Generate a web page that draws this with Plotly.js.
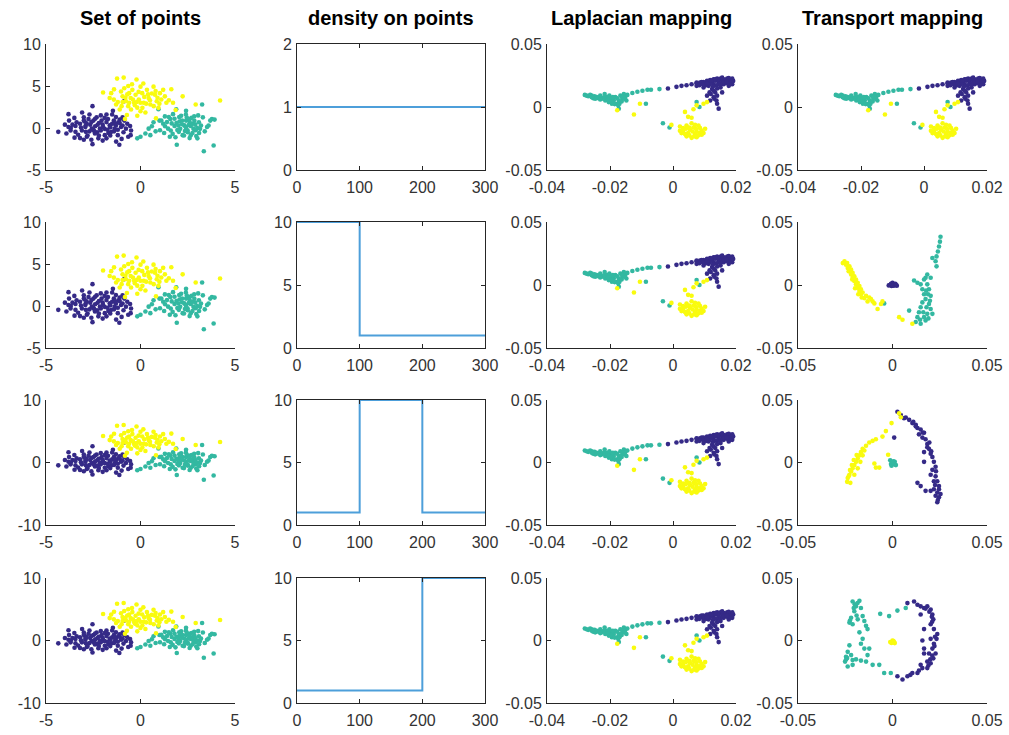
<!DOCTYPE html>
<html>
<head>
<meta charset="utf-8">
<script src="https://cdn.plot.ly/plotly-3.0.1.min.js"></script>
<style>
  html, body { margin: 0; padding: 0; background: #ffffff; }
  #chart { width: 1009px; height: 735px; }
</style>
</head>
<body>
<div id="chart"></div>
<script>
// ---- column titles ----
const columnTitles = ['Set of points', 'density on points', 'Laplacian mapping', 'Transport mapping'];

// ---- original 2-D point set: three groups of 100 points ----
const setPurple = [
  [-4.35,-0.46],[-3.92,-0.65],[-3.81,1.65],[-3.78,0.88],[-3.81,0.12],[-3.69,0],[-3.49,-1.15],[-3.44,0.23],
  [-3.44,-0.46],[-3.38,0.69],[-3.09,1.85],[-3.0,1.27],[-2.96,0.77],[-2.92,0.12],[-2.89,-0.46],[-2.84,-1.04],
  [-2.75,1.08],[-2.66,0.38],[-2.58,-0.08],[-2.54,2.6],[-2.54,-1.92],[-2.49,0.88],[-2.41,-0.65],[-2.32,1.27],
  [-2.27,0.38],[-2.23,-1.23],[-2.15,-0.08],[-2.06,0.88],[-1.98,0.12],[-1.89,-0.85],[-1.8,-1.23],[-1.72,1.08],
  [-1.63,0.31],[-1.55,-0.46],[-1.46,2.04],[-1.41,0.88],[-1.37,-0.08],[-1.29,-1.62],[-1.2,-0.85],[-1.17,0.69],
  [-1.12,-2.0],[-1.03,0.12],[-0.95,1.27],[-0.86,0.88],[-0.77,-0.08],[-0.65,-1.04],[-0.55,0.23],[-0.52,-0.85],
  [-0.86,3.2],[-3.2,0.5],[-3.1,-0.3],[-2.9,0.3],[-2.7,-0.4],[-2.6,0.7],[-2.5,-0.2],[-2.4,0.2],[-2.3,-0.5],
  [-2.2,0.6],[-2.1,-0.3],[-2.0,0.4],[-1.9,-0.1],[-1.8,0.7],[-1.7,-0.6],[-1.6,0.1],[-1.5,0.5],[-1.4,-0.4],
  [-1.3,0.3],[-1.2,-0.2],[-1.1,0.6],[-3.3,-0.8],[-2.8,-0.9],[-2.2,-0.9],[-1.6,-0.9],[-3.0,0.9],[-2.4,1.1],
  [-1.9,1.2],[-1.3,1.3],[-0.9,-0.5],[-0.7,0.5],[-3.6,0.4],[-3.0,-1.4],[-2.0,-1.5],[-1.5,1.6],[-2.7,1.6],
  [-0.5,-0.3],[-3.5,1.2],[-3.2,-1.2],[-2.6,-1.4],[-1.8,1.6],[-1.0,-1.3],[-2.1,1.5],[-4.0,0.4],[-3.7,-0.3],
  [-1.1,1.0],[-2.45,-0.35],[-2.85,0.55],[-1.75,-0.2],[-1.35,0.55],[-0.95,0.3],[-3.15,0.05]
];
const setTeal = [
  [-0.17,-1.23],[0,-1.04],[0.26,-0.65],[0.43,-0.08],[0.52,-0.85],[0.69,0.69],[0.95,2.23],[1.0,0.88],
  [1.03,-0.27],[1.2,0.5],[1.29,1.38],[1.46,-0.08],[1.55,-1.04],[1.58,1.08],[1.72,1.65],[1.8,0.23],
  [1.89,2.23],[1.92,-2.0],[2.03,-0.46],[2.06,0.77],[2.15,1.46],[2.23,-0.85],[2.32,0.31],[2.41,2.04],
  [2.49,-0.27],[2.58,1.08],[2.66,-0.85],[2.75,0.5],[2.84,1.38],[2.92,-0.27],[3.01,-1.23],[3.09,0.69],
  [3.26,2.8],[3.3,1.27],[3.35,-2.77],[3.52,0.12],[3.69,0.88],[3.78,1.08],[3.87,-2.08],[3.92,1.0],
  [2.41,0.88],[2.66,0.23],[1.3,0.2],[1.6,-0.3],[1.9,0.6],[2.1,-0.1],[2.2,0.9],[2.4,0.1],[2.5,-0.5],
  [2.6,0.7],[2.8,-0.1],[2.9,0.4],[3.0,0.0],[3.1,-0.6],[2.0,0.3],[2.7,1.2],[1.7,-0.7],[2.3,-0.9],
  [3.2,0.3],[1.1,0.9],[2.6,-1.2],[1.8,1.1],[2.4,1.6],[3.4,-0.4],[0.8,-0.4],[1.4,0.7],[1.5,1.3],
  [2.2,0.45],[2.55,0.35],[2.85,0.85],[3.05,1.5],[2.35,-0.35],[1.95,-0.25],[1.65,0.55],[2.75,-0.6],
  [3.15,-0.1],[2.45,1.25],[1.25,-0.6],[0.6,0.2],[2.05,1.3],[3.6,0.3],[2.95,-0.95],[1.85,-1.1]
];
const setYellow = [
  [-1.98,4.23],[-1.63,3.58],[-1.55,4.15],[-1.24,5.88],[-0.89,6.0],[-0.65,5.0],[-0.21,5.77],[-1.41,3.38],
  [-1.29,2.8],[-1.03,4.35],[-0.95,3.77],[-0.86,4.73],[-0.77,3.19],[-0.65,2.6],[-0.72,1.54],[-0.6,4.15],
  [-0.52,3.58],[-0.43,4.54],[-0.34,3.0],[-0.26,3.96],[-0.17,2.42],[-0.09,3.38],[0,4.92],[0.09,4.15],
  [0.17,3.0],[0.26,1.85],[0.34,4.54],[0.43,3.58],[0.52,2.8],[0.69,4.92],[0.77,3.96],[0.86,3.19],
  [1.03,4.15],[1.2,4.54],[1.29,3.77],[1.37,3.0],[1.63,4.62],[1.72,3.0],[1.86,2.15],[2.23,3.77],
  [2.92,2.8],[4.21,3.27],[0.82,1.15],[-0.82,1.08],[-0.17,1.46],[-1.2,3.1],[-1.0,2.6],[-0.8,3.6],
  [-0.5,2.2],[-0.4,3.4],[-0.3,2.7],[-0.1,4.3],[0.0,3.0],[0.1,2.4],[0.2,3.7],[0.3,2.9],[0.5,3.3],
  [0.6,4.1],[0.7,2.6],[0.9,3.6],[1.0,2.9],[1.1,3.4],[-0.7,4.0],[-0.2,3.1],[0.4,4.0],[-1.1,2.2],
  [1.5,3.3],[-0.6,3.0],[0.0,2.0],[0.8,4.4],[-0.45,5.2],[0.15,5.3],[-1.4,4.6],[0.95,2.4],[-0.95,3.1]
];

// ---- density assigned to each block of 100 points, per row ----
const densityIndex = [0, 100, 200, 300];
const densityRow1 = [1, 1, 1];
const densityRow2 = [10, 1, 1];
const densityRow3 = [1, 10, 1];
const densityRow4 = [1, 1, 10];

// ---- Laplacian eigenmap embedding (same for every row) ----
const lapPurple = [
  [-0.0016,0.0147],[0.0011,0.0160],[0.0027,0.0168],[0.0043,0.0173],[0.0059,0.0181],[0.0075,0.0189],
  [0.0086,0.0194],[0.0097,0.0199],[0.0108,0.0207],[0.0118,0.0214],[0.0129,0.0220],[0.0140,0.0225],
  [0.0151,0.0225],[0.0161,0.0220],[0.0172,0.0225],[0.0183,0.0214],[0.0191,0.0207],[0.0188,0.0181],
  [0.0177,0.0168],[0.0161,0.0181],[0.0145,0.0194],[0.0129,0.0181],[0.0113,0.0168],[0.0124,0.0142],
  [0.0134,0.0116],[0.0140,0.0090],[0.0129,0.0078],[0.0118,0.0052],[0.0140,0.0026],[0.0145,-0.0013],
  [0.0151,0.0155],[0.0167,0.0199],[0.0108,0.0090],[0.0120,0.0103],[0.0156,0.0116],[0.0075,0.0168],
  [0.0097,0.0155],[0.0075,0.0194],[0.0091,0.0199],[0.0102,0.0189],[0.0113,0.0199],[0.0124,0.0204],
  [0.0134,0.0209],[0.0145,0.0214],[0.0156,0.0209],[0.0167,0.0214],[0.0177,0.0209],[0.0185,0.0199],
  [0.0181,0.0181],[0.0172,0.0189],[0.0159,0.0194],[0.0148,0.0183],[0.0138,0.0173],[0.0127,0.0163],
  [0.0116,0.0181],[0.0105,0.0173],[0.0095,0.0181],[0.0084,0.0173],[0.0188,0.0225],[0.0177,0.0230],
  [0.0156,0.0233],[0.0134,0.0220],[0.0120,0.0194],[0.0108,0.0186],[0.0140,0.0147],[0.0129,0.0129],
  [0.0116,0.0116],[0.0131,0.0065],[0.0138,0.0052],[0.0170,0.0200],[0.0150,0.0170],[0.0122,0.0210]
];
const lapTeal = [
  [-0.0280,0.0096],[-0.0269,0.0085],[-0.0258,0.0090],[-0.0253,0.0070],[-0.0242,0.0078],[-0.0231,0.0090],
  [-0.0226,0.0065],[-0.0215,0.0052],[-0.0210,0.0078],[-0.0204,0.0039],[-0.0199,0.0065],[-0.0194,0.0026],
  [-0.0188,0.0052],[-0.0183,0.0078],[-0.0177,0.0026],[-0.0172,-0.0013],[-0.0172,0.0052],[-0.0167,0.0090],
  [-0.0161,0.0065],[-0.0156,0.0103],[-0.0151,0.0085],[-0.0148,0.0052],[-0.0129,0.0111],[-0.0113,0.0121],
  [-0.0097,0.0129],[-0.0081,0.0137],[-0.0070,0.0137],[-0.0043,0.0142],[-0.0086,0.0026],[-0.0032,-0.0129],
  [-0.0011,-0.0163],[0.0075,0.0039],[0.0084,0.0000],[-0.0274,0.0090],[-0.0263,0.0096],[-0.0249,0.0085],
  [-0.0237,0.0070],[-0.0220,0.0075],[-0.0206,0.0059],[-0.0196,0.0044],[-0.0185,0.0023],[-0.0174,0.0013],
  [-0.0170,0.0026],[-0.0163,0.0044],[-0.0159,0.0078],[-0.0153,0.0065],[-0.0145,0.0096],[-0.0177,0.0070],
  [-0.0191,0.0078],[-0.0202,0.0090],[-0.0217,0.0103],[-0.0231,0.0059],[-0.0247,0.0065],[-0.0258,0.0078]
];
const lapYellow = [
  [-0.0177,-0.0026],[-0.0124,-0.0059],[-0.0105,0.0026],[0.0038,-0.0039],[0.0048,-0.0078],[0.0059,-0.0085],
  [0.0065,-0.0018],[0.0075,0.0013],[0.0097,0.0026],[0.0108,0.0039],[-0.0005,-0.0142],[0.0022,-0.0155],
  [0.0032,-0.0168],[0.0043,-0.0147],[0.0054,-0.0181],[0.0065,-0.0163],[0.0075,-0.0194],[0.0086,-0.0168],
  [0.0097,-0.0207],[0.0027,-0.0207],[0.0043,-0.0233],[0.0059,-0.0245],[0.0075,-0.0240],[0.0091,-0.0220],
  [0.0022,-0.0189],[0.0048,-0.0207],[0.0070,-0.0214],[0.0081,-0.0147],[0.0102,-0.0173],[0.0059,-0.0129],
  [0.0032,-0.0194],[0.0041,-0.0173],[0.0052,-0.0163],[0.0062,-0.0194],[0.0073,-0.0173],[0.0084,-0.0207],
  [0.0067,-0.0233],[0.0052,-0.0225],[0.0038,-0.0214],[0.0081,-0.0225],[0.0070,-0.0142],[0.0091,-0.0189]
];

// ---- transport embedding, row 2 (first group dense) ----
const tr2Purple = [
  [-0.0012,0],[0,0.0018],[0.0012,0.0005],[0.0023,-0.0005],[-0.0005,-0.0008],[0.0005,0.0005],
  [-0.0020,-0.0003],[0.0010,-0.0004],[0.0018,0.0002],[-0.0008,0.0010],[0.0003,-0.0006],[0.0015,0.0010]
];
const tr2Teal = [
  [0.0254,0.0383],[0.0251,0.0344],[0.0246,0.0305],[0.0240,0.0266],[0.0233,0.0227],[0.0228,0.0188],
  [0.0233,0.0148],[0.0211,0.0214],[0.0184,0.0083],[0.0175,0.0057],[0.0114,0.0036],[0.0132,0.0018],
  [0.0149,0.0005],[0.0158,-0.0034],[0.0167,-0.0073],[0.0175,-0.0112],[0.0158,-0.0138],[0.0149,-0.0177],
  [0.0140,-0.0216],[0.0132,-0.0255],[0.0123,-0.0294],[0.0167,-0.0255],[0.0184,-0.0229],[0.0202,-0.0190],
  [0.0193,-0.0151],[0.0202,-0.0086],[0.0193,-0.0034],[0.0184,0.0005],[0.0211,-0.0229],[0.0175,-0.0281],
  [0.0149,-0.0307],[0.0088,-0.0203],[-0.0044,-0.0146],[0.0188,-0.0073],[0.0198,-0.0125],[0.0180,-0.0177],
  [0.0163,-0.0216],[0.0146,-0.0276],[0.0202,0.0057],[0.0167,0.0044],[0.0178,-0.0045],[0.0190,-0.0265]
];
const tr2Yellow = [
  [-0.0254,0.0188],[-0.0246,0.0161],[-0.0237,0.0135],[-0.0228,0.0109],[-0.0219,0.0083],[-0.0211,0.0057],
  [-0.0202,0.0031],[-0.0193,0.0005],[-0.0184,-0.0021],[-0.0175,-0.0047],[-0.0167,-0.0073],[-0.0149,-0.0104],
  [-0.0132,-0.0130],[-0.0114,-0.0112],[-0.0096,-0.0146],[-0.0079,-0.0190],[-0.0061,-0.0151],[-0.0053,-0.0130],
  [0.0035,-0.0255],[0.0053,-0.0276],[0.0105,-0.0307],[-0.0240,0.0174],[-0.0228,0.0148],[-0.0219,0.0122],
  [-0.0211,0.0096],[-0.0202,0.0070],[-0.0193,0.0044],[-0.0184,0.0018],[-0.0175,-0.0008],[-0.0167,-0.0034],
  [-0.0158,-0.0060],[-0.0140,-0.0086],[-0.0123,-0.0099],[-0.0105,-0.0130],[-0.0263,0.0174],[-0.0232,0.0109],
  [-0.0213,0.0044],[-0.0198,-0.0026],[-0.0181,-0.0073],[-0.0163,-0.0099]
];

// ---- transport embedding, row 3 (second group dense) ----
const tr3Purple = [
  [0.0026,0.0406],[0.0044,0.0380],[0.0061,0.0354],[0.0088,0.0341],[0.0105,0.0315],[0.0123,0.0302],
  [0.0132,0.0276],[0.0149,0.0264],[0.0140,0.0225],[0.0158,0.0199],[0.0175,0.0186],[0.0184,0.0147],
  [0.0193,0.0109],[0.0202,0.0070],[0.0211,0.0044],[0.0167,0.0083],[0.0219,0.0005],[0.0228,-0.0034],
  [0.0211,-0.0059],[0.0202,-0.0098],[0.0228,-0.0111],[0.0237,-0.0150],[0.0246,-0.0189],[0.0219,-0.0214],
  [0.0237,-0.0240],[0.0246,-0.0279],[0.0237,-0.0318],[0.0202,-0.0227],[0.0175,-0.0227],[0.0132,-0.0163],
  [0.0149,-0.0189],[0.0009,0.0199],[0.0123,0.0289],[0.0167,0.0238],[0.0184,0.0122],[0.0167,0.0005],
  [0.0219,-0.0150],[0.0254,-0.0253],[0.0228,-0.0266],[0.0246,-0.0214],[0.0070,0.0360],[0.0110,0.0325],
  [0.0160,0.0240],[0.0195,0.0160],[0.0205,0.0090],[0.0230,-0.0070],[0.0240,-0.0300],[0.0225,-0.0180]
];
const tr3Teal = [
  [-0.0012,0.0018],[0,-0.0008],[0.0012,0.0005],[-0.0005,-0.0026],[0.0018,-0.0021],[0.0005,0.0010],
  [-0.0008,-0.0012],[0.0010,-0.0015],[0.0002,0.0003]
];
const tr3Yellow = [
  [0.0035,0.0393],[0.0044,0.0362],[-0.0005,0.0315],[-0.0035,0.0251],[-0.0053,0.0207],[-0.0088,0.0186],
  [-0.0105,0.0173],[-0.0123,0.0160],[-0.0140,0.0134],[-0.0158,0.0109],[-0.0167,0.0083],[-0.0175,0.0057],
  [-0.0184,0.0031],[-0.0193,0.0005],[-0.0202,-0.0021],[-0.0211,-0.0047],[-0.0219,-0.0072],[-0.0228,-0.0098],
  [-0.0237,-0.0124],[-0.0240,-0.0155],[-0.0223,-0.0163],[-0.0202,-0.0098],[-0.0184,-0.0047],[-0.0170,0.0005],
  [-0.0158,0.0057],[-0.0149,0.0096],[-0.0023,0.0062],[-0.0096,-0.0008],[-0.0088,-0.0041],[-0.0070,-0.0041],
  [-0.0190,0.0060],[-0.0205,0.0020],[-0.0215,-0.0020],[-0.0225,-0.0060],[-0.0232,-0.0110]
];

// ---- transport embedding, row 4 (third group dense) ----
const tr4Purple = [
  [0.0079,0.0299],[0.0114,0.0312],[0.0132,0.0286],[0.0149,0.0273],[0.0167,0.0260],[0.0184,0.0273],
  [0.0202,0.0247],[0.0211,0.0208],[0.0216,0.0169],[0.0202,0.0130],[0.0219,0.0091],[0.0237,0.0052],
  [0.0233,0.0013],[0.0219,-0.0026],[0.0211,-0.0065],[0.0228,-0.0104],[0.0216,-0.0143],[0.0202,-0.0182],
  [0.0184,-0.0221],[0.0158,-0.0221],[0.0132,-0.0260],[0.0105,-0.0260],[0.0079,-0.0286],[0.0053,-0.0312],
  [0.0026,-0.0286],[0.0158,0],[0.0167,-0.0104],[0.0167,0.0091],[0.0149,0.0208],[0.0184,-0.0169],
  [0.0149,-0.0195],[0.0202,0.0013],[0.0193,-0.0104],[0.0167,-0.0065],[0.0195,0.0230],[0.0210,0.0150],
  [0.0225,0.0030],[0.0200,-0.0150],[0.0140,-0.0240],[0.0095,-0.0275],[0.0175,0.0255],[0.0208,0.0190],
  [0.0222,-0.0045],[0.0210,-0.0120],[0.0190,-0.0200]
];
const tr4Teal = [
  [-0.0211,0.0312],[-0.0193,0.0273],[-0.0175,0.0317],[-0.0167,0.0260],[-0.0202,0.0234],[-0.0219,0.0182],
  [-0.0228,0.0143],[-0.0211,0.0130],[-0.0184,0.0169],[-0.0158,0.0195],[-0.0149,0.0156],[-0.0140,0.0117],
  [-0.0132,0.0091],[-0.0175,0.0065],[-0.0158,0.0013],[-0.0167,-0.0026],[-0.0149,-0.0065],[-0.0123,-0.0065],
  [-0.0132,-0.0117],[-0.0228,-0.0039],[-0.0237,-0.0091],[-0.0246,-0.0130],[-0.0251,-0.0169],[-0.0237,-0.0208],
  [-0.0211,-0.0156],[-0.0193,-0.0151],[-0.0167,-0.0161],[-0.0140,-0.0169],[-0.0105,-0.0195],[-0.0070,-0.0195],
  [-0.0044,-0.0260],[-0.0009,-0.0260],[-0.0065,0.0213],[-0.0018,0.0195],[0.0026,0.0239],[0.0070,0.0260],
  [-0.0211,-0.0195],[-0.0219,-0.0117],[-0.0200,0.0290],[-0.0190,0.0200],[-0.0240,-0.0140],[-0.0185,0.0300],
  [-0.0205,0.0260],[-0.0225,0.0160],[-0.0245,-0.0150]
];
const tr4Yellow = [
  [-0.0012,-0.0013],[0,0],[0.0012,-0.0021],[-0.0005,-0.0020],[0.0005,-0.0005],[0.0008,-0.0012]
];

// ---- colours ----
const groupColors = { purple: '#352a87', teal: '#33b8a1', yellow: '#f9fb0e' };
const densityColor = '#4d9fda';
const inkColor = '#262626';
const tickInk = '#333333';

// ---- subplot placement (pixel boxes on a 1009 x 735 page) ----
const PAGE_W = 1009, PAGE_H = 735;
const colBoxes = [[46, 235], [297, 485], [547, 736], [798, 987]];
const rowBoxes = [[44, 170], [222, 348], [400, 525], [578, 703]];

// ---- axis ranges and ticks per panel ----
function setAxisY(row) {
  return row < 2
    ? { range: [-5, 10], vals: [-5, 0, 5, 10], text: ['-5', '0', '5', '10'] }
    : { range: [-10, 10], vals: [-10, 0, 10], text: ['-10', '0', '10'] };
}
const setAxisX = { range: [-5, 5], vals: [-5, 0, 5], text: ['-5', '0', '5'] };
const densAxisX = { range: [0, 300], vals: [0, 100, 200, 300], text: ['0', '100', '200', '300'] };
function densAxisY(row) {
  return row === 0
    ? { range: [0, 2], vals: [0, 1, 2], text: ['0', '1', '2'] }
    : { range: [0, 10], vals: [0, 5, 10], text: ['0', '5', '10'] };
}
const lapAxisX = { range: [-0.04, 0.02], vals: [-0.04, -0.02, 0, 0.02], text: ['-0.04', '-0.02', '0', '0.02'] };
const embAxisY = { range: [-0.05, 0.05], vals: [-0.05, 0, 0.05], text: ['-0.05', '0', '0.05'] };
const trAxisX = { range: [-0.05, 0.05], vals: [-0.05, 0, 0.05], text: ['-0.05', '0', '0.05'] };

const densityRows = [densityRow1, densityRow2, densityRow3, densityRow4];
const transportRows = [
  [lapPurple, lapTeal, lapYellow],
  [tr2Purple, tr2Teal, tr2Yellow],
  [tr3Purple, tr3Teal, tr3Yellow],
  [tr4Purple, tr4Teal, tr4Yellow]
];

const traces = [];
const layout = {
  width: PAGE_W, height: PAGE_H,
  margin: { l: 0, r: 0, t: 0, b: 0 },
  paper_bgcolor: '#ffffff', plot_bgcolor: 'rgba(0,0,0,0)',
  showlegend: false,
  font: { family: 'Liberation Sans, Arial, sans-serif', color: inkColor },
  annotations: []
};

function scatterGroups(groups, xa, ya) {
  const cols = [groupColors.purple, groupColors.teal, groupColors.yellow];
  groups.forEach((pts, k) => {
    traces.push({
      type: 'scatter', mode: 'markers',
      x: pts.map(p => p[0]), y: pts.map(p => p[1]),
      xaxis: xa, yaxis: ya,
      marker: { size: 4.6, color: cols[k], line: { width: 0 } },
      hoverinfo: 'skip', cliponaxis: false
    });
  });
}

function axisSpec(def, domain, anchor, boxed, isX) {
  return {
    domain: domain, anchor: anchor,
    range: def.range, autorange: false, fixedrange: true,
    tickmode: 'array', tickvals: def.vals, ticktext: def.text,
    ticks: 'inside', ticklen: 4, tickwidth: 1, tickcolor: inkColor,
    ticklabelstandoff: isX ? 3 : 1,
    showline: true, linecolor: inkColor, linewidth: 1,
    mirror: boxed ? 'ticks' : false,
    showgrid: false, zeroline: false,
    tickfont: { size: 16, color: tickInk, family: 'Liberation Sans, Arial, sans-serif' }
  };
}

for (let r = 0; r < 4; r++) {
  for (let c = 0; c < 4; c++) {
    const idx = r * 4 + c + 1;
    const xa = 'x' + idx, ya = 'y' + idx;
    const xd = [colBoxes[c][0] / PAGE_W, colBoxes[c][1] / PAGE_W];
    const yd = [1 - rowBoxes[r][1] / PAGE_H, 1 - rowBoxes[r][0] / PAGE_H];
    let xdef, ydef, boxed = false;
    if (c === 0) {
      xdef = setAxisX; ydef = setAxisY(r);
      scatterGroups([setPurple, setTeal, setYellow], xa, ya);
    } else if (c === 1) {
      xdef = densAxisX; ydef = densAxisY(r); boxed = true;
      const d = densityRows[r];
      traces.push({
        type: 'scatter', mode: 'lines',
        x: densityIndex, y: d.concat([d[d.length - 1]]),
        xaxis: xa, yaxis: ya,
        line: { shape: 'hv', color: densityColor, width: 2 },
        hoverinfo: 'skip', cliponaxis: false
      });
    } else if (c === 2) {
      xdef = lapAxisX; ydef = embAxisY;
      scatterGroups([lapPurple, lapTeal, lapYellow], xa, ya);
    } else {
      xdef = r === 0 ? lapAxisX : trAxisX; ydef = embAxisY;
      scatterGroups(transportRows[r], xa, ya);
    }
    layout['xaxis' + idx] = axisSpec(xdef, xd, ya, boxed, true);
    layout['yaxis' + idx] = axisSpec(ydef, yd, xa, boxed, false);
  }
}

// column titles
columnTitles.forEach((t, c) => {
  layout.annotations.push({
    text: '<b>' + t + '</b>', showarrow: false,
    xref: 'paper', yref: 'paper',
    x: (colBoxes[c][0] + colBoxes[c][1]) / 2 / PAGE_W,
    y: 1 - 18 / PAGE_H,
    xanchor: 'center', yanchor: 'middle',
    font: { size: 20, color: '#000000', family: 'Liberation Sans, Arial, sans-serif' }
  });
});

Plotly.newPlot('chart', traces, layout, { staticPlot: true, displayModeBar: false });
</script>
</body>
</html>
